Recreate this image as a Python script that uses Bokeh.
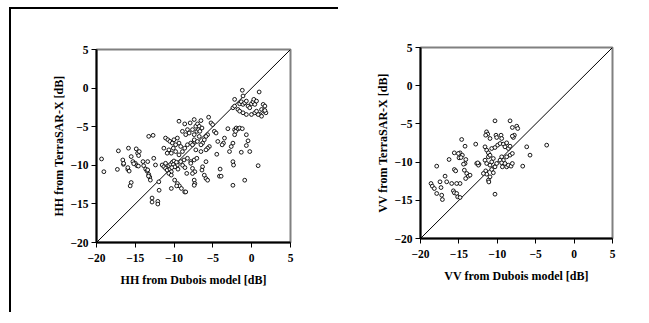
from bokeh.plotting import figure
from bokeh.layouts import row
from bokeh.models import Range1d, FixedTicker
from bokeh.embed import file_html
from bokeh.resources import INLINE

# ---------------- data ----------------
diag = [-20, 5]
ticks = [-20, -15, -10, -5, 0, 5]

hh_x = [
    -19.35, -19.05, -17.18, -17.31, -16.61, -16.53, -15.88, -15.96, -15.79, -15.53,
    -15.31, -15.53, -15.66, -14.88, -14.70, -14.49, -14.57, -15.00, -14.79, -14.01,
    -13.92, -13.66, -13.40, -13.49, -13.27, -13.14, -13.06, -13.27, -12.71, -12.84,
    -12.84, -12.10, -12.10, -11.97, -11.93, -12.62, -12.40, -16.50, -15.96, -15.20,
    -14.60, -13.40, -13.30,
    -9.37, -8.63, -7.93, -7.41, -7.20, -7.63, -8.28, -8.93, -8.50, -8.06, -7.41, -7.07,
    -11.10, -10.80, -10.54, -10.23, -10.02, -9.58, -9.80, -9.37, -9.15, -10.10, -10.67,
    -11.32, -10.89, -10.36, -9.80, -9.37, -8.93, -8.63, -8.28, -7.85, -7.41,
    -11.54, -11.32, -11.10, -10.89, -10.67, -10.45, -10.23, -10.02, -10.54, -10.36,
    -11.10, -9.58, -9.15, -8.72, -8.28, -7.85, -7.41, -7.07, -10.10, -9.90, -10.30,
    -9.70, -9.50, -8.90, -8.60,
    -10.67, -10.36, -9.93, -9.58, -9.32, -9.06, -8.63, -10.36, -9.67, -8.37, -7.85,
    -7.63, -7.33, -7.41, -7.33, -8.50,
    -6.98, -6.76, -6.85, -6.54, -6.68, -6.41, -7.40, -7.00, -6.76, -7.63,
    -5.55, -5.24, -5.03, -5.68, -5.89, -6.11, -6.33, -6.54, -4.81, -4.59, -3.07,
    -2.20, -1.99, -1.77, -1.55, -1.21, -2.20, -2.07, -2.42, -2.64, -0.69, -0.47,
    -0.69, -0.25, -1.34, -3.51, -3.64, -3.81, -4.37, -2.86, -4.50, -5.46, -5.68,
    -5.89, -6.54, -7.20, -5.89, -6.33, -6.41, -2.42, -2.34, 0.83, -4.07, -4.16,
    -3.94, -6.11, -5.89, -5.68, -7.63, -7.41, -2.42, -0.90,
    -1.21, -1.12, 0.96, -2.20, -1.55, -1.34, -1.12, -0.90, -0.69, -0.47, -0.25,
    -0.03, 0.18, 0.40, 0.27, 0.62, -2.42, -2.20, -1.77, -1.55, -1.12, -0.69,
    1.48, 1.70, 1.27, 1.57, 1.83, 1.05, 1.27, 1.70, -0.03, 0.40, 0.83, 0.62,
]
hh_y = [
    -9.18, -10.83, -8.13, -10.53, -9.31, -9.87, -7.78, -10.53, -10.75, -8.87,
    -9.52, -12.23, -12.67, -7.87, -8.43, -8.22, -8.74, -9.74, -10.05, -9.52,
    -10.05, -10.48, -9.52, -10.75, -11.18, -11.53, -11.92, -6.25, -6.12, -14.24,
    -14.76, -14.67, -15.02, -12.14, -13.23, -9.09, -9.96, -9.75, -10.30, -9.80,
    -10.10, -10.60, -11.40,
    -4.29, -4.64, -4.51, -4.07, -4.94, -5.38, -5.38, -5.60, -6.03, -5.82, -6.03, -5.60,
    -6.47, -6.69, -6.90, -7.12, -6.69, -6.47, -7.34, -7.12, -7.56, -7.78, -8.00,
    -7.78, -8.43, -8.43, -8.22, -8.65, -8.22, -7.78, -7.34, -7.12, -6.90,
    -9.96, -10.18, -10.40, -10.62, -10.05, -9.87, -9.61, -9.44, -10.48, -10.83,
    -9.74, -9.96, -9.52, -9.31, -9.09, -9.52, -9.31, -9.09, -9.90, -10.20, -10.30,
    -9.60, -10.50, -10.00, -10.30,
    -11.05, -11.27, -11.92, -12.36, -12.67, -13.00, -13.45, -13.00, -12.67, -11.05, -9.74,
    -10.40, -10.83, -11.92, -12.36, -13.45,
    -4.64, -4.95, -5.39, -4.21, -5.60, -5.17, -6.70, -6.91, -6.26, -7.35,
    -3.77, -4.51, -4.73, -6.04, -6.26, -6.70, -7.13, -7.35, -5.60, -5.82, -5.26,
    -5.39, -5.17, -5.30, -5.17, -5.26, -6.04, -5.60, -7.13, -7.57, -6.04, -6.83,
    -7.44, -8.22, -8.31, -6.48, -7.13, -7.35, -6.91, -8.22, -8.57, -7.57, -7.79,
    -8.00, -8.22, -8.00, -9.53, -10.19, -10.62, -9.53, -9.97, -10.05, -10.49, -11.41,
    -11.41, -11.28, -11.71, -11.93, -11.06, -12.59, -12.59, -11.93,
    -0.28, -1.02, -0.50, -1.46, -2.03, -1.77, -2.11, -1.90, -1.68, -2.33, -2.55,
    -2.03, -1.77, -2.11, -1.46, -1.68, -2.55, -2.33, -2.77, -2.99, -3.20, -3.42,
    -2.11, -2.33, -2.77, -2.99, -3.20, -3.42, -3.64, -2.90, -3.42, -3.20, -3.42, -2.99,
]

vv_x = [
    -10.30, -8.34, -8.04, -7.47, -7.34, -7.78, -7.91, -8.04, -11.40, -11.25, -11.51,
    -10.17, -10.08, -10.95, -9.51, -9.43, -14.64, -14.20, -12.81,
    -11.60, -11.38, -11.16, -10.73, -10.30, -9.95, -9.64, -9.21, -8.78, -9.00, -8.56, -8.34,
    -6.17, -3.57, -5.74, -8.34, -8.04, -8.78, -9.21,
    -15.60, -14.85, -14.55, -14.98, -14.72, -15.07, -14.10, -14.20, -14.40,
    -16.28, -17.89, -15.59, -15.42, -12.68, -12.38, -12.46, -12.55,
    -11.60, -11.38, -10.95, -10.73, -11.16, -10.95, -10.52, -10.30, -10.08, -9.64, -9.43,
    -9.43, -9.34, -9.00, -8.78, -8.56, -8.21, -8.04,
    -11.51, -11.38, -10.73, -10.52, -10.95, -11.16, -11.81, -6.69,
    -14.29, -13.98, -13.77, -13.55, -14.12, -14.85, -15.29, -15.94,
    -16.80, -16.59, -17.46, -18.63, -18.46, -18.20, -17.33, -17.89, -17.24, -17.15,
    -15.72, -15.59, -15.29, -15.16, -14.85, -10.30, -11.10,
]
vv_y = [
    -4.60, -4.60, -5.47, -5.30, -5.60, -6.48, -6.78, -6.60, -6.04, -6.34, -6.48,
    -6.48, -6.78, -6.91, -6.48, -6.91, -7.04, -7.92, -7.65,
    -8.00, -8.44, -8.79, -8.22, -8.09, -7.78, -7.57, -7.65, -7.48, -8.00, -8.22, -7.92,
    -8.00, -7.78, -9.09, -9.09, -8.87, -9.31, -9.75,
    -8.79, -8.79, -9.10, -9.44, -9.40, -8.88, -9.66, -10.18, -10.27,
    -9.66, -10.53, -10.97, -11.15, -10.18, -10.27, -10.40, -10.10,
    -9.75, -10.18, -10.40, -9.97, -9.31, -9.10, -9.53, -10.62, -10.18, -9.75, -9.31,
    -10.10, -10.62, -10.18, -10.62, -10.40, -10.53, -10.18,
    -11.15, -11.58, -10.97, -11.40, -11.93, -12.37, -11.49, -10.53,
    -11.06, -11.49, -11.84, -11.71, -12.15, -12.80, -12.80, -12.80,
    -11.84, -12.58, -12.58, -12.80, -13.15, -13.46, -13.33, -14.11, -14.33, -14.90,
    -13.76, -14.02, -14.11, -14.55, -14.63, -14.20, -12.60,
]

FONT = "Liberation Serif"


def make_plot(xs, ys, xlabel, ylabel, mb_left, mb_right, styles=None):
    p = figure(frame_width=192, frame_height=191,
               output_backend="svg", toolbar_location=None,
               x_range=Range1d(-20, 5), y_range=Range1d(-20, 5),
               min_border_left=mb_left, min_border_right=mb_right,
               min_border_top=40, min_border_bottom=72,
               background_fill_color="white", border_fill_color="white")
    if styles:
        p.styles = styles
    p.xgrid.visible = False
    p.ygrid.visible = False
    p.outline_line_color = "#808080"
    p.outline_line_width = 2
    for ax in (p.xaxis[0], p.yaxis[0]):
        ax.ticker = FixedTicker(ticks=ticks)
        ax.axis_line_color = "black"
        ax.axis_line_width = 2
        ax.major_tick_line_color = "black"
        ax.major_tick_line_width = 1
        ax.major_tick_out = 5
        ax.major_tick_in = 0
        ax.minor_tick_line_color = None
        ax.major_label_text_font = FONT
        ax.major_label_text_font_style = "bold"
        ax.major_label_text_font_size = "11.5px"
        ax.major_label_text_color = "black"
        ax.axis_label_text_font = FONT
        ax.axis_label_text_font_style = "bold"
        ax.axis_label_text_font_size = "12px"
        ax.axis_label_text_color = "black"
    p.xaxis.axis_label = xlabel
    p.yaxis.axis_label = ylabel
    p.xaxis.major_label_standoff = 6
    p.xaxis.axis_label_standoff = 8
    p.yaxis.major_label_standoff = 3
    p.yaxis.axis_label_standoff = 1
    p.line(diag, diag, line_color="black", line_width=1)
    p.scatter(xs, ys, size=3.8, marker="circle", line_color="black",
              line_width=0.9, fill_color="white")
    return p


p1 = make_plot(hh_x, hh_y, "HH from Dubois model [dB]", "HH from TerraSAR-X [dB]",
               85, 50,
               styles={"border-top": "2px solid black", "border-left": "2px solid black"})
p2 = make_plot(vv_x, vv_y, "VV from Dubois model [dB]", "VV from TerraSAR-X [dB]",
               82, 20)

layout = row(p1, p2, spacing=0, styles={"margin-left": "9px", "margin-top": "7px"})
open("out.html", "w").write(file_html(layout, INLINE))
